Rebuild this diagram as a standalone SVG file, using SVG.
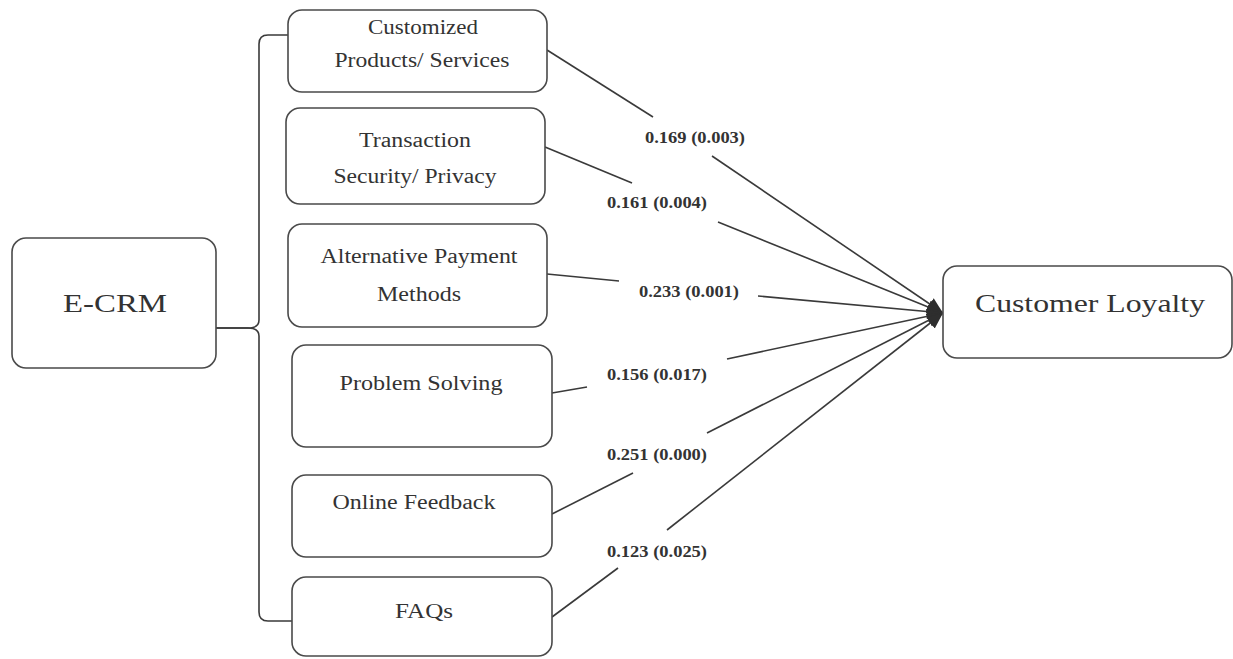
<svg xmlns="http://www.w3.org/2000/svg" width="1233" height="659" viewBox="0 0 1233 659">
<style>
.box{fill:#fff;stroke:#4a4a4a;stroke-width:1.6}
.t{font-family:"Liberation Serif","Times New Roman",serif;font-size:20px;fill:#333;text-anchor:middle}
.big{font-size:25px}
.lbl{font-family:"Liberation Serif","Times New Roman",serif;font-size:16px;font-weight:bold;fill:#333;text-anchor:middle}
.c{stroke:#3a3a3a;stroke-width:1.6;fill:none}
</style>
<defs>
<marker id="ah" markerUnits="userSpaceOnUse" markerWidth="18" markerHeight="16" refX="16" refY="8" orient="auto">
<path d="M0,1 L16,8 L0,15 z" fill="#2e2e2e"/>
</marker>
</defs>
<g id="connectors">
<path class="c" d="M216,328 L248,328 Q259,328 259,320 L259,44 Q259,35 268,35 L288,35"/>
<path class="c" d="M216,328 L248,328 Q259,328 259,336 L259,612 Q259,621 268,621 L292,621"/>
<line class="c" x1="547" y1="50" x2="653" y2="117"/>
<line class="c" x1="712" y1="156" x2="943" y2="313" marker-end="url(#ah)"/>
<line class="c" x1="545" y1="147" x2="632" y2="183"/>
<line class="c" x1="718" y1="222" x2="943" y2="313" marker-end="url(#ah)"/>
<line class="c" x1="547" y1="274" x2="619" y2="281"/>
<line class="c" x1="758" y1="296" x2="943" y2="313" marker-end="url(#ah)"/>
<line class="c" x1="552" y1="393" x2="587" y2="387"/>
<line class="c" x1="727" y1="359" x2="943" y2="313" marker-end="url(#ah)"/>
<line class="c" x1="552" y1="514" x2="633" y2="473"/>
<line class="c" x1="707" y1="433" x2="943" y2="313" marker-end="url(#ah)"/>
<line class="c" x1="552" y1="617" x2="618" y2="568"/>
<line class="c" x1="667" y1="530" x2="943" y2="313" marker-end="url(#ah)"/>
<text class="lbl" x="695" y="143" textLength="100" lengthAdjust="spacingAndGlyphs">0.169 (0.003)</text>
<text class="lbl" x="657" y="208" textLength="100" lengthAdjust="spacingAndGlyphs">0.161 (0.004)</text>
<text class="lbl" x="689" y="297" textLength="100" lengthAdjust="spacingAndGlyphs">0.233 (0.001)</text>
<text class="lbl" x="657" y="380" textLength="100" lengthAdjust="spacingAndGlyphs">0.156 (0.017)</text>
<text class="lbl" x="657" y="460" textLength="100" lengthAdjust="spacingAndGlyphs">0.251 (0.000)</text>
<text class="lbl" x="657" y="557" textLength="100" lengthAdjust="spacingAndGlyphs">0.123 (0.025)</text>
</g>
<g id="ecrm">
<rect class="box" x="12" y="238" width="204" height="130" rx="14"/>
<text class="t big" x="115" y="312" textLength="104" lengthAdjust="spacingAndGlyphs">E-CRM</text>
</g>
<g id="customized">
<rect class="box" x="288" y="10" width="259" height="82" rx="14"/>
<text class="t" x="423" y="34" textLength="110" lengthAdjust="spacingAndGlyphs">Customized</text>
<text class="t" x="422" y="67" textLength="175" lengthAdjust="spacingAndGlyphs">Products/ Services</text>
</g>
<g id="transaction">
<rect class="box" x="286" y="108" width="259" height="96" rx="14"/>
<text class="t" x="415" y="147" textLength="112" lengthAdjust="spacingAndGlyphs">Transaction</text>
<text class="t" x="415" y="183" textLength="163" lengthAdjust="spacingAndGlyphs">Security/ Privacy</text>
</g>
<g id="payment">
<rect class="box" x="288" y="224" width="259" height="103" rx="14"/>
<text class="t" x="419" y="263" textLength="197" lengthAdjust="spacingAndGlyphs">Alternative Payment</text>
<text class="t" x="419" y="301" textLength="84" lengthAdjust="spacingAndGlyphs">Methods</text>
</g>
<g id="problem">
<rect class="box" x="292" y="345" width="260" height="102" rx="14"/>
<text class="t" x="421" y="390" textLength="163" lengthAdjust="spacingAndGlyphs">Problem Solving</text>
</g>
<g id="feedback">
<rect class="box" x="292" y="475" width="260" height="82" rx="14"/>
<text class="t" x="414" y="509" textLength="163" lengthAdjust="spacingAndGlyphs">Online Feedback</text>
</g>
<g id="faqs">
<rect class="box" x="292" y="577" width="260" height="79" rx="14"/>
<text class="t" x="424" y="618" textLength="58" lengthAdjust="spacingAndGlyphs">FAQs</text>
</g>
<g id="loyalty">
<rect class="box" x="943" y="266" width="289" height="92" rx="14"/>
<text class="t big" x="1090" y="312" textLength="230" lengthAdjust="spacingAndGlyphs">Customer Loyalty</text>
</g>
</svg>
